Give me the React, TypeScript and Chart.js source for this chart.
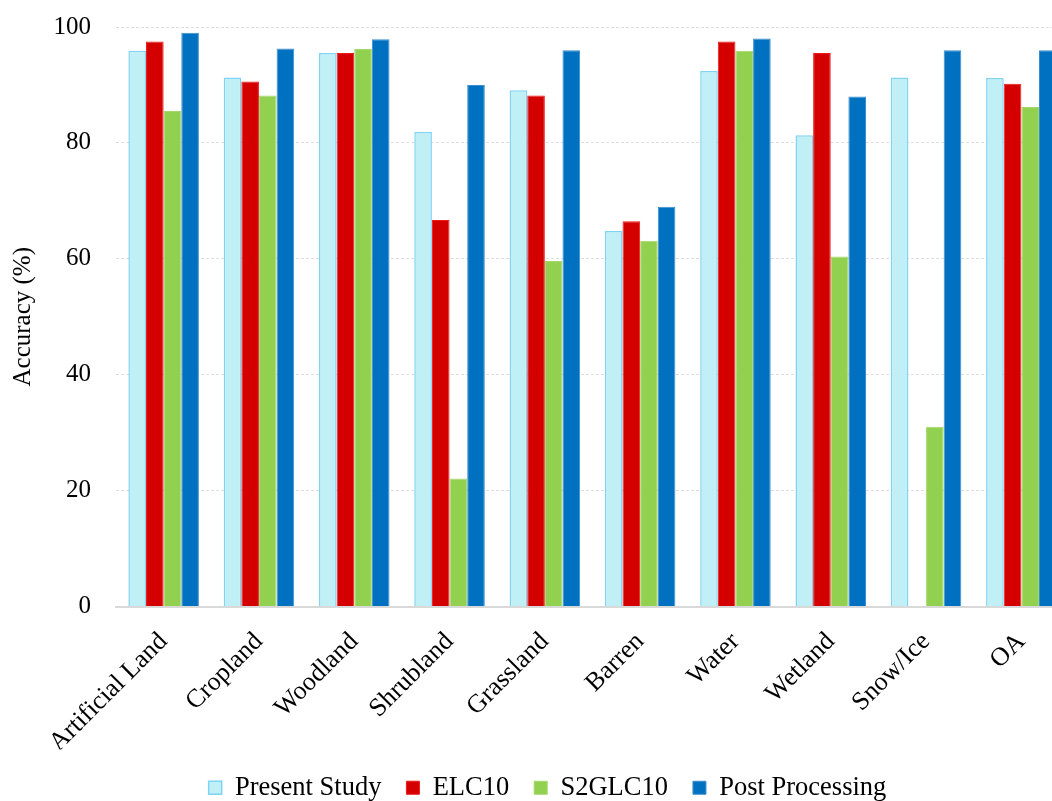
import React, { useEffect, useRef } from "react";
import { Chart, registerables } from "chart.js";

Chart.register(...registerables);

const categories = [
  "Artificial Land",
  "Cropland",
  "Woodland",
  "Shrubland",
  "Grassland",
  "Barren",
  "Water",
  "Wetland",
  "Snow/Ice",
  "OA",
];

const presentStudy = [95.9, 91.3, 95.5, 81.9, 89.1, 64.8, 92.4, 81.3, 91.3, 91.2];
const elc10 = [97.5, 90.6, 95.5, 66.7, 88.2, 66.5, 97.5, 95.5, null, 90.2];
const s2glc10 = [85.5, 88.2, 96.2, 22.1, 59.6, 63.1, 95.9, 60.4, 31.0, 86.2];
const postProcessing = [99.0, 96.3, 97.9, 90.0, 96.0, 69.0, 98.0, 88.0, 96.0, 96.0];

const yTicks = [0, 20, 40, 60, 80, 100];

const FONT = "'Liberation Serif', 'Times New Roman', serif";

export default function App() {
  const ref = useRef<HTMLCanvasElement | null>(null);

  useEffect(() => {
    document.body.style.margin = "0";
    const canvas = ref.current;
    if (!canvas) return;
    const chart = new Chart(canvas, {
      type: "bar",
      data: {
        labels: categories,
        datasets: [
          {
            label: "Present Study",
            data: presentStudy,
            backgroundColor: "#C1EFF6",
            borderColor: "#7FD4F2",
            borderWidth: 1.5,
          },
          {
            label: "ELC10",
            data: elc10,
            backgroundColor: "#D40000",
            borderColor: "#F01818",
            borderWidth: 1,
          },
          {
            label: "S2GLC10",
            data: s2glc10,
            backgroundColor: "#92D050",
            borderColor: "#A4D86A",
            borderWidth: 1,
          },
          {
            label: "Post Processing",
            data: postProcessing,
            backgroundColor: "#0070C0",
            borderColor: "#3A8FD0",
            borderWidth: 1,
          },
        ],
      },
      options: {
        responsive: false,
        animation: false,
        layout: { padding: { left: 26, right: 25, top: 27, bottom: -10 } },
        datasets: {
          bar: { categoryPercentage: 0.74, barPercentage: 1.0 },
        },
        plugins: {
          tooltip: { enabled: false },
          legend: {
            position: "bottom",
            labels: {
              font: { family: FONT, size: 26.5 },
              color: "#000",
              boxWidth: 13,
              boxHeight: 13,
              padding: 25,
            },
          },
        },
        scales: {
          x: {
            grid: { display: false },
            border: { display: true, color: "#D9D9D9", width: 2 },
            ticks: {
              font: { family: FONT, size: 26 },
              color: "#000",
              maxRotation: 45,
              minRotation: 45,
              padding: 12,
              autoSkip: false,
            },
            afterFit: (scale: any) => {
              scale.height = 143;
            },
          },
          y: {
            min: 0,
            max: 100,
            afterBuildTicks: (scale: any) => {
              scale.ticks = yTicks.map((v) => ({ value: v }));
            },
            afterFit: (scale: any) => {
              scale.width = 90;
              scale.paddingTop = 0;
              scale.paddingBottom = 0;
            },
            grid: {
              color: "#DDDDDD",
              lineWidth: 1,
              drawTicks: false,
            },
            border: { display: false, dash: [3, 2] },
            ticks: {
              font: { family: FONT, size: 25 },
              color: "#000",
              padding: 25,
            },
            title: {
              display: true,
              text: "Accuracy (%)",
              font: { family: FONT, size: 25 },
              color: "#000",
              padding: { top: -18, bottom: 0 },
            },
          },
        },
      },
    });
    return () => chart.destroy();
  }, []);

  return (
    <div
      style={{
        position: "fixed",
        left: 0,
        top: 0,
        width: 1052,
        height: 801,
        overflow: "hidden",
        background: "#fff",
      }}
    >
      <canvas ref={ref} width={1094} height={801} style={{ display: "block", width: 1094, height: 801 }} />
    </div>
  );
}
